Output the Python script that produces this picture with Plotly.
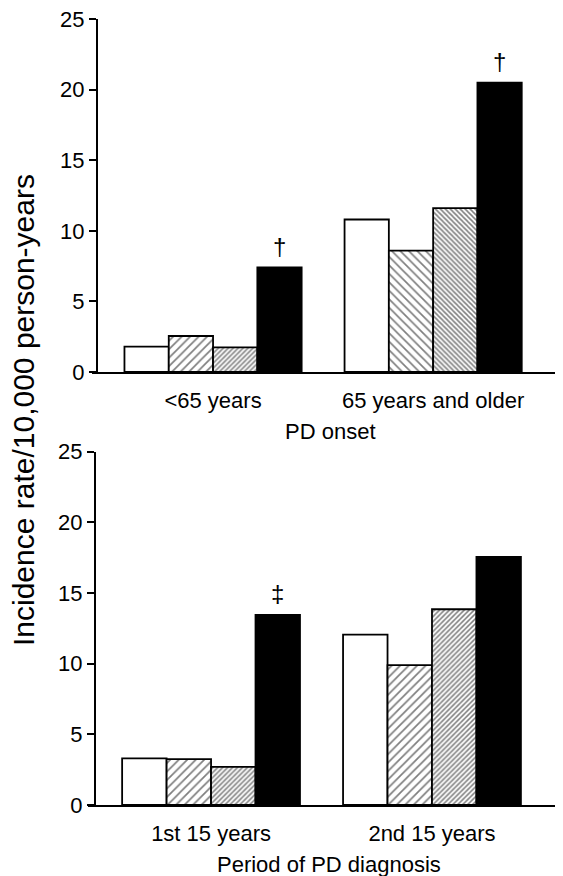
import plotly.graph_objects as go

# ---- data ----
onset_categories = ["<65 years", "65 years and older"]
period_categories = ["1st 15 years", "2nd 15 years"]

onset_series1 = [1.8, 10.8]
onset_series2 = [2.55, 8.6]
onset_series3 = [1.75, 11.6]
onset_series4 = [7.4, 20.5]

period_series1 = [3.3, 12.05]
period_series2 = [3.25, 9.9]
period_series3 = [2.7, 13.85]
period_series4 = [13.45, 17.55]

onset_marks = ["†", "†"]
period_marks = ["‡", ""]

y_ticks = [0, 5, 10, 15, 20, 25]

# page body margin offset (the figure div starts at 8,8 in the window)
OFF = 8
W, H = 563 - OFF, 876 - OFF
FONT = "Liberation Sans, Arial, Helvetica, sans-serif"


def px(x):
    return (x - OFF) / W


def py(y):
    return 1 - (y - OFF) / H


fig = go.Figure()


def add_panel(vals, xa, ya, hatch_dirs):
    s1, s2, s3, s4 = vals
    xs = list(range(len(s1)))
    line = dict(color="black", width=1.8)
    fig.add_trace(go.Bar(x=xs, y=s1, xaxis=xa, yaxis=ya, name="1",
                         marker=dict(color="white", line=line), showlegend=False))
    fig.add_trace(go.Bar(x=xs, y=s2, xaxis=xa, yaxis=ya, name="2",
                         marker=dict(color="white", line=line,
                                     pattern=dict(shape=hatch_dirs, fgcolor="black", bgcolor="white",
                                                  size=6, solidity=0.28)),
                         showlegend=False))
    fig.add_trace(go.Bar(x=xs, y=s3, xaxis=xa, yaxis=ya, name="3",
                         marker=dict(color="white", line=line,
                                     pattern=dict(shape=hatch_dirs, fgcolor="black", bgcolor="white",
                                                  size=3.5, solidity=0.45)),
                         showlegend=False))
    fig.add_trace(go.Bar(x=xs, y=s4, xaxis=xa, yaxis=ya, name="4",
                         marker=dict(color="black", line=line), showlegend=False))


add_panel([onset_series1, onset_series2, onset_series3, onset_series4], "x", "y", ["/", "\\"])
add_panel([period_series1, period_series2, period_series3, period_series4], "x2", "y2", ["/", "/"])

BARGAP = 0.195
bar_w = (1 - BARGAP) / 4
offset4 = 1.5 * bar_w

annotations = []
for i, m in enumerate(onset_marks):
    if m:
        annotations.append(dict(x=i + offset4, y=onset_series4[i], xref="x", yref="y", text=m,
                                showarrow=False, yanchor="bottom", yshift=6,
                                font=dict(size=24, color="black", family=FONT)))
for i, m in enumerate(period_marks):
    if m:
        annotations.append(dict(x=i + offset4, y=period_series4[i], xref="x2", yref="y2", text=m,
                                showarrow=False, yanchor="bottom", yshift=6,
                                font=dict(size=24, color="black", family=FONT)))

# axis titles
annotations.append(dict(x=px(330), y=py(431), xref="paper", yref="paper", text="PD onset",
                        showarrow=False, xanchor="center", yanchor="middle",
                        font=dict(size=22, color="black", family=FONT)))
annotations.append(dict(x=px(329), y=py(864), xref="paper", yref="paper", text="Period of PD diagnosis",
                        showarrow=False, xanchor="center", yanchor="middle",
                        font=dict(size=22, color="black", family=FONT)))
annotations.append(dict(x=px(24), y=py(410), xref="paper", yref="paper",
                        text="Incidence rate/10,000 person-years", textangle=-90,
                        showarrow=False, xanchor="center", yanchor="middle",
                        font=dict(size=30, color="black", family=FONT)))

xaxis_common = dict(showline=True, linecolor="black", linewidth=2, ticks="", showgrid=False,
                    zeroline=False, tickvals=[0, 1], tickfont=dict(size=22, color="black", family=FONT),
                    ticklabelstandoff=8, automargin=False, fixedrange=True)
yaxis_common = dict(showline=True, linecolor="black", linewidth=2, ticks="outside", ticklen=7,
                    tickwidth=2, tickcolor="black", showgrid=False, zeroline=False, range=[0, 25],
                    tickvals=y_ticks, tickfont=dict(size=22, color="black", family=FONT),
                    ticklabeloverflow="allow",
                    anchor="free", automargin=False, fixedrange=True)

fig.update_layout(
    width=W, height=H,
    margin=dict(l=0, r=0, t=0, b=0),
    paper_bgcolor="white", plot_bgcolor="white",
    barmode="group", bargap=BARGAP, bargroupgap=0,
    font=dict(family=FONT, color="black"),
    xaxis=dict(**xaxis_common, domain=[px(92), 1], range=[-0.55, 1.59], ticktext=onset_categories, anchor="y"),
    yaxis=dict(**yaxis_common, domain=[py(372), py(19)], position=px(97)),
    xaxis2=dict(**xaxis_common, domain=[px(88), 1], range=[-0.557, 1.593], ticktext=period_categories, anchor="y2"),
    yaxis2=dict(**yaxis_common, domain=[py(805), py(451.7)], position=px(95)),
    annotations=annotations,
)

fig.write_html("out.html")
